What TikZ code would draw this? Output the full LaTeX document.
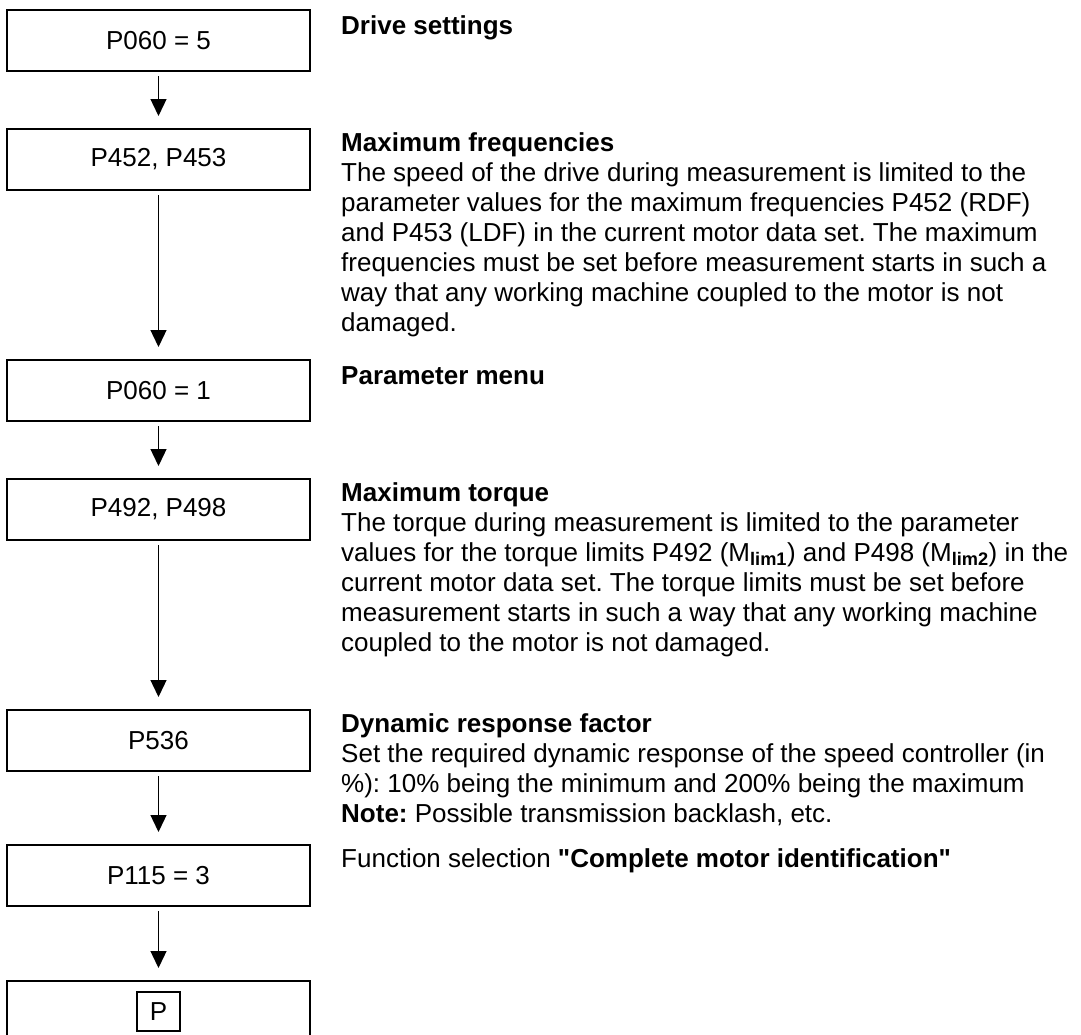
\documentclass[tikz,border=0pt]{standalone}
\usepackage{fontspec}
\setmainfont[Ligatures=TeXOff]{Liberation Sans}
\usepackage{tikz}
\usetikzlibrary{arrows.meta, positioning}
\frenchspacing

\begin{document}
\begin{tikzpicture}[
  x=1pt, y=-1pt,
  every node/.style={font=\fontsize{26}{30}\selectfont},
  stepbox/.style={draw, line width=1.5pt, outer sep=0pt, inner sep=0pt,
    minimum width=303pt, minimum height=61pt, align=center},
  desc/.style={anchor=north west, inner sep=0pt, align=left,
    execute at begin node=\strut},
  keybox/.style={draw, line width=1.2pt, inner sep=0pt,
    minimum width=43pt, minimum height=39pt},
  arrow/.style={-{Triangle[width=16pt, length=17pt]}, line width=1.3pt,
    shorten <=5pt, shorten >=13pt},
]
\useasboundingbox (0,0) rectangle (1081,1034);

% Parameter boxes
\node[stepbox] (b1) at (158.5,40.5) {P060 = 5};
\node[stepbox, below=58pt of b1] (b2) {P452, P453};
\node[stepbox, below=170pt of b2] (b3) {P060 = 1};
\node[stepbox, below=58pt of b3] (b4) {P492, P498};
\node[stepbox, below=170pt of b4] (b5) {P536};
\node[stepbox, below=74pt of b5] (b6) {P115 = 3};
\node[stepbox, below=75pt of b6] (b7) {};
\node[keybox] (key) at (b7.center) {P};

% Descriptions
\node[desc] (d1) at ([shift={(31,3)}]b1.north east) {\textbf{Drive settings}};
\node[desc] (d2) at ([shift={(31,3)}]b2.north east) {\textbf{Maximum frequencies}\\
  The speed of the drive during measurement is limited to the\\
  parameter values for the maximum frequencies P452 (RDF)\\
  and P453 (LDF) in the current motor data set. The maximum\\
  frequencies must be set before measurement starts in such a\\
  way that any working machine coupled to the motor is not\\
  damaged.};
\node[desc] (d3) at ([shift={(31,3)}]b3.north east) {\textbf{Parameter menu}};
\node[desc] (d4) at ([shift={(31,3)}]b4.north east) {\textbf{Maximum torque}\\
  The torque during measurement is limited to the parameter\\
  values for the torque limits P492 (M\textsubscript{\textbf{lim1}}) and P498 (M\textsubscript{\textbf{lim2}}) in the\\
  current motor data set. The torque limits must be set before\\
  measurement starts in such a way that any working machine\\
  coupled to the motor is not damaged.};
\node[desc] (d5) at ([shift={(31,3)}]b5.north east) {\textbf{Dynamic response factor}\\
  Set the required dynamic response of the speed controller (in\\
  \%): 10\% being the minimum and 200\% being the maximum\\
  \textbf{Note:} Possible transmission backlash, etc.};
\node[desc] (d6) at ([shift={(31,1)}]b6.north east) {Function selection \textbf{"Complete motor identification"}};

% Arrows
\draw[arrow] (b1) -- (b2);
\draw[arrow] (b2) -- (b3);
\draw[arrow] (b3) -- (b4);
\draw[arrow] (b4) -- (b5);
\draw[arrow] (b5) -- (b6);
\draw[arrow] (b6) -- (b7);

\end{tikzpicture}
\end{document}
